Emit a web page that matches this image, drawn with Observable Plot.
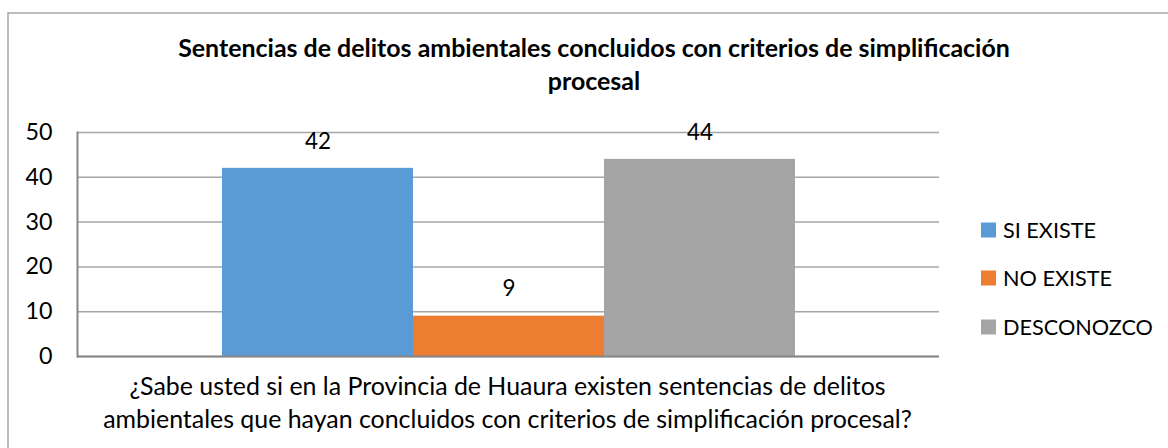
<!DOCTYPE html>
<html>
<head>
<meta charset="utf-8">
<script src="https://cdn.jsdelivr.net/npm/d3@7"></script>
<script src="https://cdn.jsdelivr.net/npm/@observablehq/plot@0.6"></script>
<style>
  html, body { margin: 0; padding: 0; background: #fff; }
  #wrap { position: relative; width: 1168px; height: 448px; overflow: hidden; }
  #wrap > svg { position: absolute; left: 0; top: 0; }
</style>
</head>
<body>
<div id="wrap"></div>
<script>
// ---- data ----
const categories = ["SI EXISTE", "NO EXISTE", "DESCONOZCO"];
const values = [42, 9, 44];
const colors = ["#5B9BD5", "#ED7D31", "#A5A5A5"];
const yTicks = [0, 10, 20, 30, 40, 50];
const titleLines = ["Sentencias de delitos ambientales concluidos con criterios de simplificación", "procesal"];
const questionLines = ["¿Sabe usted si en la Provincia de Huaura existen sentencias de delitos", "ambientales que hayan concluidos con criterios de simplificación procesal?"];

const data = categories.map((c, i) => ({cat: c, value: values[i]}));

// ---- font fitting (substitute for Calibri) ----
const FONT = "Lato";
const ctx = document.createElement("canvas").getContext("2d");
function fit(text, target, weight = "normal") {
  ctx.font = `${weight} 100px ${FONT}`;
  return 100 * target / ctx.measureText(text).width;
}
const tickSize = fit("50", 27);
const labelSize = fit("42", 26);
const titleSize = fit(titleLines[0], 832, "bold");
const questionSize = fit(questionLines[1], 809);
const legendSize = fit("DESCONOZCO", 150);

const W = 1168, H = 448;
const plotLeft = 77, plotRight = 939, plotTop = 132, plotBottom = 356;

const chart = Plot.plot({
  width: W,
  height: H,
  marginLeft: plotLeft,
  marginRight: W - plotRight,
  marginTop: plotTop,
  marginBottom: H - plotBottom,
  style: {fontFamily: FONT, color: "#000", background: "transparent"},
  x: {domain: categories, paddingInner: 0, paddingOuter: 0.753, axis: null},
  y: {domain: [0, 50]},
  color: {domain: categories, range: colors},
  marks: [
    Plot.gridY(yTicks, {stroke: "#a6a6a6", strokeOpacity: 1, strokeWidth: 1.5}),
    Plot.barY(data, {x: "cat", y: "value", fill: "cat"}),
    Plot.frame({anchor: "left", stroke: "#868686", strokeWidth: 2}),
    Plot.ruleY([0], {stroke: "#868686", strokeWidth: 2}),
    Plot.axisY(yTicks, {tickSize: 0, tickPadding: 25, fontSize: tickSize, fill: "#000", label: null}),
    Plot.text(data, {x: "cat", y: "value", text: d => String(d.value), dy: -27, fontSize: labelSize, fill: "#000"})
  ]
});

const wrap = document.getElementById("wrap");
wrap.appendChild(chart);

// ---- overlay: border, title, question, legend ----
const colorScale = chart.scale("color");
const ov = d3.select(wrap).append("svg")
  .attr("width", W).attr("height", H)
  .style("font-family", FONT)
  .style("pointer-events", "none");

ov.append("rect")
  .attr("x", 8).attr("y", 13).attr("width", 1300).attr("height", 600)
  .attr("fill", "none").attr("stroke", "#a6a6a6").attr("stroke-width", 1.5);

const titleBase = [57, 90];
ov.selectAll("text.title").data(titleLines).join("text")
  .attr("class", "title")
  .attr("x", 594).attr("y", (d, i) => titleBase[i])
  .attr("text-anchor", "middle")
  .attr("font-weight", "bold")
  .attr("font-size", titleSize)
  .attr("fill", "#000")
  .text(d => d);

const qBase = [395, 428];
ov.selectAll("text.q").data(questionLines).join("text")
  .attr("class", "q")
  .attr("x", 507.5).attr("y", (d, i) => qBase[i])
  .attr("text-anchor", "middle")
  .attr("font-size", questionSize)
  .attr("fill", "#000")
  .text(d => d);

const legendY = [230, 278, 327];
const lg = ov.selectAll("g.lg").data(categories).join("g")
  .attr("class", "lg")
  .attr("transform", (d, i) => `translate(981,${legendY[i]})`);
lg.append("rect").attr("x", 0).attr("y", -7.5).attr("width", 15).attr("height", 15)
  .attr("fill", d => colorScale.apply(d));
lg.append("text").attr("x", 22).attr("y", 0).attr("dy", "0.35em")
  .attr("font-size", legendSize).attr("fill", "#000")
  .text(d => d);
</script>
</body>
</html>
